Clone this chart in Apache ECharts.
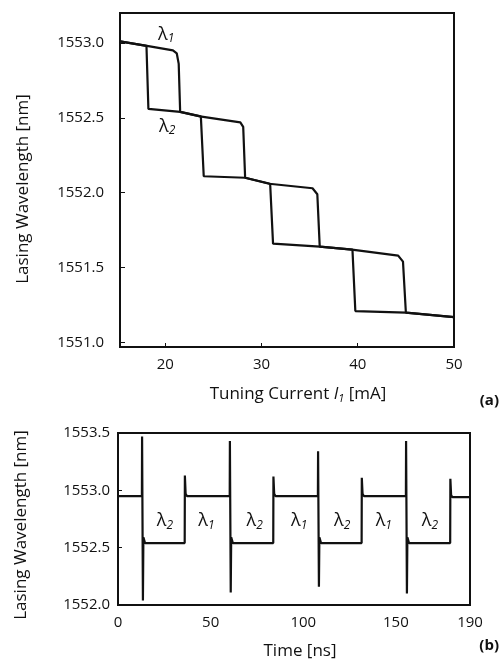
<!DOCTYPE html>
<html>
<head>
<meta charset="utf-8">
<script src="https://cdn.jsdelivr.net/npm/echarts@6/dist/echarts.min.js"></script>
<style>
html,body{margin:0;padding:0;background:#fff;}
#chart{width:501px;height:664px;}
</style>
</head>
<body>
<div id="chart"></div>
<script>
// ---- Panel (a): tuning current sweep (hysteresis) ----
const sweepUpCurrent    = [15.3, 18.1, 20.8, 21.2, 21.4, 21.55, 23.6, 27.8, 28.1, 28.3, 30.8, 35.3, 35.8, 36.05, 39.4, 44.2, 44.7, 45.0, 50.0];
const sweepUpWavelength = [1553.01, 1552.98, 1552.95, 1552.93, 1552.86, 1552.54, 1552.51, 1552.47, 1552.44, 1552.10, 1552.06, 1552.03, 1551.99, 1551.64, 1551.62, 1551.58, 1551.54, 1551.20, 1551.17];
const sweepDownCurrent    = [50.0, 45.0, 39.75, 39.45, 36.05, 31.2, 30.9, 28.3, 24.0, 23.7, 21.55, 18.25, 18.05, 15.3];
const sweepDownWavelength = [1551.17, 1551.20, 1551.21, 1551.62, 1551.64, 1551.66, 1552.06, 1552.10, 1552.11, 1552.51, 1552.54, 1552.56, 1552.98, 1553.01];
const topXTicks = [20, 30, 40, 50];
const topYTicks = [1551.0, 1551.5, 1552.0, 1552.5, 1553.0];
const topLabelText = ['λ1', 'λ2'];
const topLabelCurrent = [20.1, 20.2];
const topLabelWavelength = [1553.055, 1552.44];

// ---- Panel (b): time-domain switching ----
const timeNs = [0, 12.9, 13.0, 13.45, 13.7, 14.6, 36.0, 36.1, 36.5, 37.2,
  60.3, 60.4, 60.85, 61.1, 62.0, 83.8, 83.9, 84.3, 85.0,
  107.9, 108.0, 108.45, 108.7, 109.6, 131.5, 131.6, 132.0, 132.7,
  155.4, 155.5, 155.95, 156.2, 157.1, 179.3, 179.4, 179.8, 180.5, 190];
const switchWavelength = [1552.95, 1552.95, 1553.47, 1552.04, 1552.59, 1552.54, 1552.54, 1553.13, 1552.97, 1552.95,
  1552.95, 1553.43, 1552.11, 1552.59, 1552.54, 1552.54, 1553.12, 1552.97, 1552.95,
  1552.95, 1553.34, 1552.16, 1552.59, 1552.54, 1552.54, 1553.11, 1552.97, 1552.95,
  1552.95, 1553.43, 1552.10, 1552.59, 1552.54, 1552.54, 1553.10, 1552.96, 1552.94, 1552.94];
const bottomXTicks = [0, 50, 100, 150, 190];
const bottomYTicks = [1552.0, 1552.5, 1553.0, 1553.5];
const bottomLabelText = ['λ2', 'λ1', 'λ2', 'λ1', 'λ2', 'λ1', 'λ2'];
const bottomLabelTime = [25.3, 47.7, 73.8, 97.8, 121.0, 143.5, 168.4];
const bottomLabelWavelength = [1552.73, 1552.73, 1552.73, 1552.73, 1552.73, 1552.73, 1552.73];

const FONT = '"Open Sans", "Noto Sans", sans-serif';
const INK = '#111';

function zip(a, b) { return a.map((v, i) => [v, b[i]]); }
const lambdaRich = {
  l: { fontFamily: FONT, fontSize: 18, color: INK, lineHeight: 20, verticalAlign: 'middle' },
  s: { fontFamily: FONT, fontSize: 12, fontStyle: 'italic', color: INK, lineHeight: 12, verticalAlign: 'bottom', padding: [5, 0, 0, 0] }
};
function lambdaFmt(p) { const t = p.name; return '{l|λ}{s|' + t.slice(1) + '}'; }

function labelSeries(xi, yi, xs, ys, names) {
  return {
    type: 'scatter', xAxisIndex: xi, yAxisIndex: yi, symbolSize: 0, silent: true,
    itemStyle: { color: INK, opacity: 1 },
    data: xs.map((x, i) => ({ name: names[i], value: [x, ys[i]] })),
    label: { show: true, position: 'inside', color: INK, textBorderWidth: 0, formatter: lambdaFmt, rich: lambdaRich }
  };
}

const axisFontStyle = { fontFamily: FONT, fontSize: 15, color: INK };

const option = {
  animation: false,
  backgroundColor: '#fff',
  grid: [
    { left: 120, top: 13, width: 334, height: 334, show: true, borderColor: INK, borderWidth: 2, backgroundColor: 'transparent' },
    { left: 118, top: 433, width: 352, height: 172, show: true, borderColor: INK, borderWidth: 2, backgroundColor: 'transparent' }
  ],
  xAxis: [
    { type: 'value', gridIndex: 0, min: 15.3, max: 50,
      axisLine: { show: false }, splitLine: { show: false },
      axisTick: { show: true, inside: true, length: 4, lineStyle: { color: INK }, customValues: topXTicks },
      axisLabel: Object.assign({ margin: 10, customValues: topXTicks, formatter: v => String(v) }, axisFontStyle),
      name: 'Tuning Current {i|I}{s|1} [mA]', nameLocation: 'middle', nameGap: 38,
      nameTextStyle: { fontFamily: FONT, fontSize: 17, color: INK, padding: [0, 0, 0, 22],
        rich: { i: { fontFamily: FONT, fontSize: 17, fontStyle: 'italic', color: INK },
                s: { fontFamily: FONT, fontSize: 11, fontStyle: 'italic', color: INK, verticalAlign: 'bottom', padding: [8, 0, 0, 0] } } }
    },
    { type: 'value', gridIndex: 1, min: 0, max: 190,
      axisLine: { show: false }, splitLine: { show: false },
      axisTick: { show: false },
      axisLabel: Object.assign({ margin: 10, customValues: bottomXTicks, formatter: v => String(v), showMaxLabel: true }, axisFontStyle),
      name: 'Time [ns]', nameLocation: 'middle', nameGap: 38,
      nameTextStyle: { fontFamily: FONT, fontSize: 17, color: INK, padding: [0, 0, 0, 12] }
    }
  ],
  yAxis: [
    { type: 'value', gridIndex: 0, min: 1550.97, max: 1553.2,
      axisLine: { show: false }, splitLine: { show: false },
      axisTick: { show: true, inside: true, length: 5, lineStyle: { color: INK }, customValues: topYTicks },
      axisLabel: Object.assign({ margin: 16, customValues: topYTicks, formatter: v => v.toFixed(1) }, axisFontStyle),
      name: 'Lasing Wavelength [nm]', nameLocation: 'middle', nameRotate: 90, nameGap: 88,
      nameTextStyle: { fontFamily: FONT, fontSize: 17, color: INK, padding: [0, 18, 0, 0] }
    },
    { type: 'value', gridIndex: 1, min: 1552.0, max: 1553.5,
      axisLine: { show: false }, splitLine: { show: false },
      axisTick: { show: true, inside: true, length: 4, lineStyle: { color: INK }, customValues: bottomYTicks },
      axisLabel: Object.assign({ margin: 8, customValues: bottomYTicks, formatter: v => v.toFixed(1) }, axisFontStyle),
      name: 'Lasing Wavelength [nm]', nameLocation: 'middle', nameRotate: 90, nameGap: 88,
      nameTextStyle: { fontFamily: FONT, fontSize: 17, color: INK, padding: [0, 12, 0, 0] }
    }
  ],
  graphic: [
    { type: 'text', right: 2, top: 393, style: { text: '(a)', fontFamily: FONT, fontSize: 15, fontWeight: 'bold', fill: INK } },
    { type: 'text', right: 2, top: 638, style: { text: '(b)', fontFamily: FONT, fontSize: 15, fontWeight: 'bold', fill: INK } }
  ],
  series: [
    { type: 'line', xAxisIndex: 0, yAxisIndex: 0, data: zip(sweepUpCurrent, sweepUpWavelength),
      showSymbol: false, smooth: false, lineStyle: { color: INK, width: 2.2 }, silent: true },
    { type: 'line', xAxisIndex: 0, yAxisIndex: 0, data: zip(sweepDownCurrent, sweepDownWavelength),
      showSymbol: false, smooth: false, lineStyle: { color: INK, width: 2.2 }, silent: true },
    labelSeries(0, 0, topLabelCurrent, topLabelWavelength, topLabelText),
    { type: 'line', xAxisIndex: 1, yAxisIndex: 1, data: zip(timeNs, switchWavelength),
      showSymbol: false, smooth: false, lineStyle: { color: INK, width: 2.2 }, silent: true },
    labelSeries(1, 1, bottomLabelTime, bottomLabelWavelength, bottomLabelText)
  ]
};

const chart = echarts.init(document.getElementById('chart'), null, { renderer: 'canvas' });
chart.setOption(option);
</script>
</body>
</html>
